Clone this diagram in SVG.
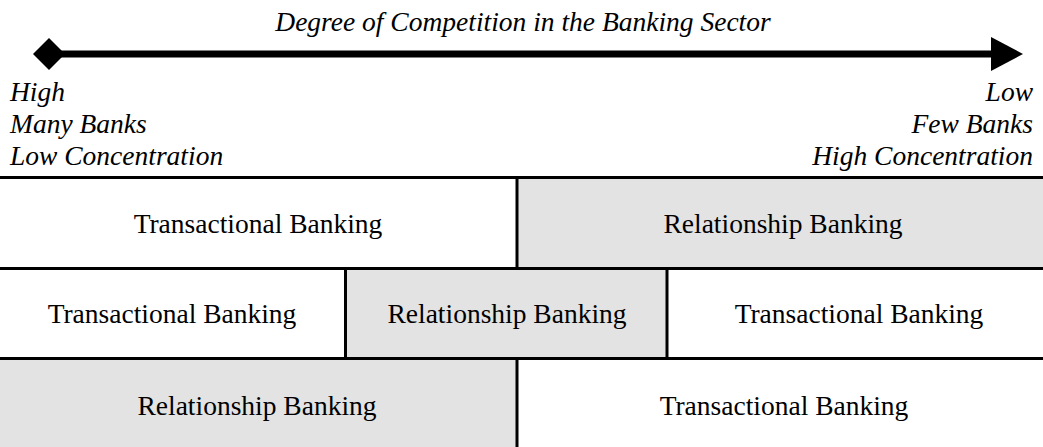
<svg xmlns="http://www.w3.org/2000/svg" width="1043" height="447" viewBox="0 0 1043 447">
<style>
.c{text-anchor:middle}
.r{text-anchor:end}
.gray{fill:#e3e3e3}
.white{fill:#fff}
.bd{stroke:#000;stroke-width:3;fill:none}
</style>
<rect width="1043" height="447" fill="#fff"/>
<g font-family="Liberation Serif, Times New Roman, serif" font-size="27.5" fill="#000">
<g id="axis">
<text font-style="italic" class="c" x="523" y="31">Degree of Competition in the Banking Sector</text>
<line x1="49" y1="54" x2="995" y2="54" stroke="#000" stroke-width="7"/>
<polygon points="49,38 65,54 49,70 33,54" fill="#000"/>
<polygon points="991,37 1023,54 991,71" fill="#000"/>
</g>
<g id="label-left" font-style="italic">
<text x="10" y="101">High</text>
<text x="10" y="133">Many Banks</text>
<text x="10" y="165">Low Concentration</text>
</g>
<g id="label-right" font-style="italic">
<text class="r" x="1033" y="101">Low</text>
<text class="r" x="1033" y="133">Few Banks</text>
<text class="r" x="1033" y="165">High Concentration</text>
</g>
<g id="r1-transactional">
<rect class="white" x="0" y="179" width="517" height="88"/>
<text class="c" x="258" y="233">Transactional Banking</text>
</g>
<g id="r1-relationship">
<rect class="gray" x="517" y="179" width="526" height="88"/>
<text class="c" x="783" y="233">Relationship Banking</text>
</g>
<g id="r2-transactional-left">
<rect class="white" x="0" y="270" width="346" height="87"/>
<text class="c" x="172" y="323">Transactional Banking</text>
</g>
<g id="r2-relationship">
<rect class="gray" x="346" y="270" width="321" height="87"/>
<text class="c" x="507" y="323">Relationship Banking</text>
</g>
<g id="r2-transactional-right">
<rect class="white" x="667" y="270" width="376" height="87"/>
<text class="c" x="859" y="323">Transactional Banking</text>
</g>
<g id="r3-relationship">
<rect class="gray" x="0" y="360" width="517" height="87"/>
<text class="c" x="257" y="415">Relationship Banking</text>
</g>
<g id="r3-transactional">
<rect class="white" x="517" y="360" width="526" height="87"/>
<text class="c" x="784" y="415">Transactional Banking</text>
</g>
</g>
<g id="borders">
<line class="bd" x1="0" y1="177.5" x2="1043" y2="177.5"/>
<line class="bd" x1="0" y1="268.5" x2="1043" y2="268.5"/>
<line class="bd" x1="0" y1="358.5" x2="1043" y2="358.5"/>
<line class="bd" x1="517" y1="177" x2="517" y2="269"/>
<line class="bd" x1="345.5" y1="268" x2="345.5" y2="359"/>
<line class="bd" x1="667" y1="268" x2="667" y2="359"/>
<line class="bd" x1="517" y1="358" x2="517" y2="447"/>
</g>
</svg>
